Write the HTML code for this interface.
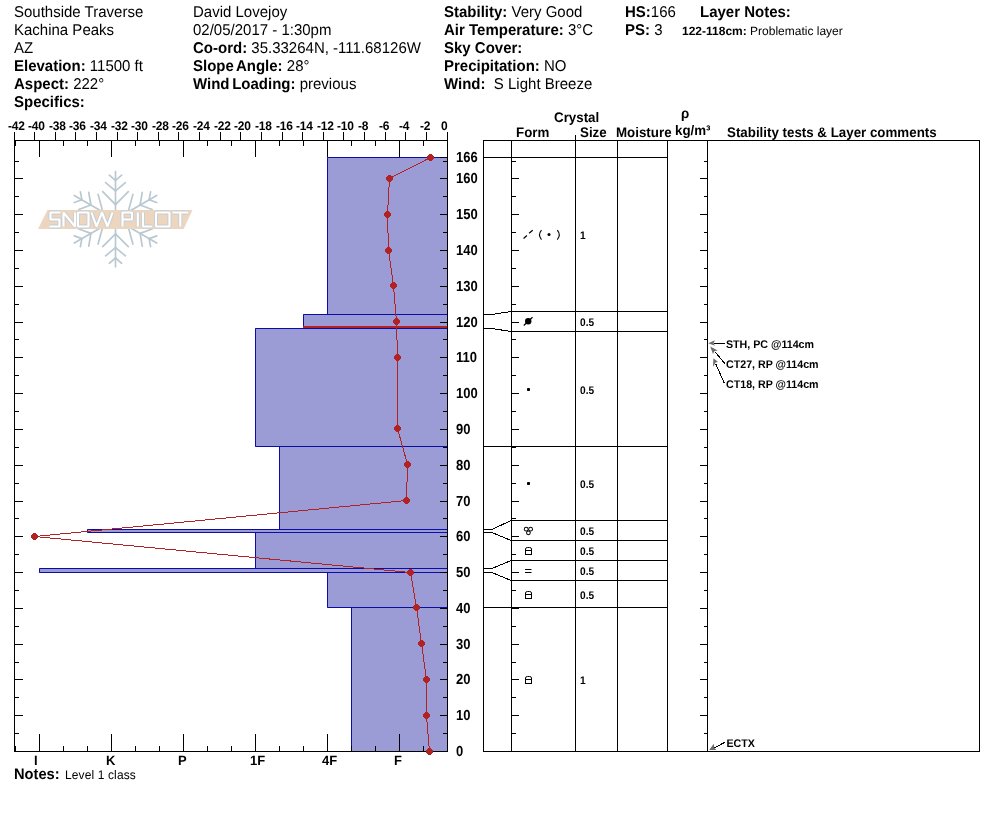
<!DOCTYPE html>
<html><head><meta charset="utf-8"><style>
html,body{margin:0;padding:0;background:#fff;}
svg{display:block;will-change:transform;text-rendering:geometricPrecision;font-family:"Liberation Sans", sans-serif;}
</style></head><body>
<svg width="994" height="840" viewBox="0 0 994 840">
<rect width="994" height="840" fill="#fff"/>
<text transform="translate(14,17) scale(1,1.04)" font-size="15" font-weight="400" text-anchor="start" fill="#000" >Southside Traverse</text>
<text transform="translate(14,35) scale(1,1.04)" font-size="15" font-weight="400" text-anchor="start" fill="#000" >Kachina Peaks</text>
<text transform="translate(14,53) scale(1,1.04)" font-size="15" font-weight="400" text-anchor="start" fill="#000" >AZ</text>
<text transform="translate(14,71) scale(1,1.04)" font-size="15"><tspan font-weight="700">Elevation:</tspan>  11500 ft</text>
<text transform="translate(14,89) scale(1,1.04)" font-size="15"><tspan font-weight="700">Aspect:</tspan>  222°</text>
<text transform="translate(14,107) scale(1,1.04)" font-size="15"><tspan font-weight="700">Specifics:</tspan> </text>
<text transform="translate(193,17) scale(1,1.04)" font-size="15" font-weight="400" text-anchor="start" fill="#000" >David Lovejoy</text>
<text transform="translate(193,35) scale(1,1.04)" font-size="15" font-weight="400" text-anchor="start" fill="#000" >02/05/2017 - 1:30pm</text>
<text transform="translate(193,53) scale(1,1.04)" font-size="15"><tspan font-weight="700">Co-ord:</tspan>  35.33264N, -111.68126W</text>
<text transform="translate(193,71) scale(1,1.04)" font-size="15"><tspan font-weight="700" word-spacing="-1.5">Slope Angle:</tspan>  28°</text>
<text transform="translate(193,89) scale(1,1.04)" font-size="15"><tspan font-weight="700" word-spacing="-1.5">Wind Loading:</tspan>  previous</text>
<text transform="translate(444,17) scale(1,1.04)" font-size="15"><tspan font-weight="700">Stability:</tspan>  Very Good</text>
<text transform="translate(444,35) scale(1,1.04)" font-size="15"><tspan font-weight="700">Air Temperature:</tspan>  3°C</text>
<text transform="translate(444,53) scale(1,1.04)" font-size="15"><tspan font-weight="700">Sky Cover:</tspan> </text>
<text transform="translate(444,71) scale(1,1.04)" font-size="15"><tspan font-weight="700">Precipitation:</tspan>  NO</text>
<text transform="translate(444,89) scale(1,1.04)" font-size="15"><tspan font-weight="700">Wind:</tspan>&#160;&#160;S Light Breeze</text>
<text transform="translate(625,17) scale(1,1.04)" font-size="15"><tspan font-weight="700">HS:</tspan>166</text>
<text transform="translate(625,35) scale(1,1.04)" font-size="15"><tspan font-weight="700">PS:</tspan>  3</text>
<text transform="translate(700,17) scale(1,1.04)" font-size="15" font-weight="700" text-anchor="start" fill="#000" >Layer Notes:</text>
<text x="682" y="35" font-size="12"><tspan font-weight="700">122-118cm:</tspan> Problematic layer</text>
<g transform="translate(115.5,219.2)" stroke="#b9c8d1" stroke-width="1.7" stroke-linecap="round">
<g transform="rotate(0)"><line x1="0" y1="0" x2="0" y2="-47.6"/><line x1="0" y1="-38.8" x2="-6.2" y2="-44.1"/><line x1="0" y1="-38.8" x2="6.2" y2="-44.1"/><line x1="0" y1="-28.4" x2="-9.9" y2="-36.6"/><line x1="0" y1="-28.4" x2="9.9" y2="-36.6"/><line x1="0" y1="-14.6" x2="-12.8" y2="-27.5"/><line x1="0" y1="-14.6" x2="12.8" y2="-27.5"/></g>
<g transform="rotate(60)"><line x1="0" y1="0" x2="0" y2="-47.6"/><line x1="0" y1="-38.8" x2="-6.2" y2="-44.1"/><line x1="0" y1="-38.8" x2="6.2" y2="-44.1"/><line x1="0" y1="-28.4" x2="-9.9" y2="-36.6"/><line x1="0" y1="-28.4" x2="9.9" y2="-36.6"/><line x1="0" y1="-14.6" x2="-12.8" y2="-27.5"/><line x1="0" y1="-14.6" x2="12.8" y2="-27.5"/></g>
<g transform="rotate(120)"><line x1="0" y1="0" x2="0" y2="-47.6"/><line x1="0" y1="-38.8" x2="-6.2" y2="-44.1"/><line x1="0" y1="-38.8" x2="6.2" y2="-44.1"/><line x1="0" y1="-28.4" x2="-9.9" y2="-36.6"/><line x1="0" y1="-28.4" x2="9.9" y2="-36.6"/><line x1="0" y1="-14.6" x2="-12.8" y2="-27.5"/><line x1="0" y1="-14.6" x2="12.8" y2="-27.5"/></g>
<g transform="rotate(180)"><line x1="0" y1="0" x2="0" y2="-47.6"/><line x1="0" y1="-38.8" x2="-6.2" y2="-44.1"/><line x1="0" y1="-38.8" x2="6.2" y2="-44.1"/><line x1="0" y1="-28.4" x2="-9.9" y2="-36.6"/><line x1="0" y1="-28.4" x2="9.9" y2="-36.6"/><line x1="0" y1="-14.6" x2="-12.8" y2="-27.5"/><line x1="0" y1="-14.6" x2="12.8" y2="-27.5"/></g>
<g transform="rotate(240)"><line x1="0" y1="0" x2="0" y2="-47.6"/><line x1="0" y1="-38.8" x2="-6.2" y2="-44.1"/><line x1="0" y1="-38.8" x2="6.2" y2="-44.1"/><line x1="0" y1="-28.4" x2="-9.9" y2="-36.6"/><line x1="0" y1="-28.4" x2="9.9" y2="-36.6"/><line x1="0" y1="-14.6" x2="-12.8" y2="-27.5"/><line x1="0" y1="-14.6" x2="12.8" y2="-27.5"/></g>
<g transform="rotate(300)"><line x1="0" y1="0" x2="0" y2="-47.6"/><line x1="0" y1="-38.8" x2="-6.2" y2="-44.1"/><line x1="0" y1="-38.8" x2="6.2" y2="-44.1"/><line x1="0" y1="-28.4" x2="-9.9" y2="-36.6"/><line x1="0" y1="-28.4" x2="9.9" y2="-36.6"/><line x1="0" y1="-14.6" x2="-12.8" y2="-27.5"/><line x1="0" y1="-14.6" x2="12.8" y2="-27.5"/></g>
</g>
<polygon points="47.5,210 192.5,210 183.7,229 38,229" fill="#edd6bf"/>
<path d="M60.5,212.5 H50.5 V219.5 H59.5 V226.5 H49.5 M63.5,226.5 V212.5 L75,226.5 V212.5 M78,212.5 H88.5 V226.5 H78 Z M91.5,212.5 L96.5,226.5 L102,212.5 L107.5,226.5 L112.5,212.5 M122.5,226.5 V212.5 H132 V219.5 H122.5 M137.8,212.5 V226.5 M143,212.5 V226.5 H152 M156,212.5 H169.5 V226.5 H156 Z M172.5,212.5 H188 M180.3,212.5 V226.5" fill="none" stroke="#c5ccd2" stroke-width="4" stroke-linejoin="bevel"/>
<path d="M60.5,212.5 H50.5 V219.5 H59.5 V226.5 H49.5 M63.5,226.5 V212.5 L75,226.5 V212.5 M78,212.5 H88.5 V226.5 H78 Z M91.5,212.5 L96.5,226.5 L102,212.5 L107.5,226.5 L112.5,212.5 M122.5,226.5 V212.5 H132 V219.5 H122.5 M137.8,212.5 V226.5 M143,212.5 V226.5 H152 M156,212.5 H169.5 V226.5 H156 Z M172.5,212.5 H188 M180.3,212.5 V226.5" fill="none" stroke="#ffffff" stroke-width="2.2" stroke-linejoin="bevel"/>
<rect x="327" y="157" width="120" height="158" fill="#9b9bd6"/>
<rect x="303" y="314" width="144" height="15" fill="#9b9bd6"/>
<rect x="255" y="328" width="192" height="119" fill="#9b9bd6"/>
<rect x="279" y="446" width="168" height="84" fill="#9b9bd6"/>
<rect x="87" y="529" width="360" height="4" fill="#9b9bd6"/>
<rect x="255" y="532" width="192" height="37" fill="#9b9bd6"/>
<rect x="39" y="568" width="408" height="5" fill="#9b9bd6"/>
<rect x="327" y="572" width="120" height="36" fill="#9b9bd6"/>
<rect x="351" y="607" width="96" height="145" fill="#9b9bd6"/>
<path d="M447,157.5 H327.5 V314.5 H447" fill="none" stroke="#0c0ca6" stroke-width="1"/>
<path d="M447,314.5 H303.5 V328.5 H447" fill="none" stroke="#0c0ca6" stroke-width="1"/>
<path d="M447,328.5 H255.5 V446.5 H447" fill="none" stroke="#0c0ca6" stroke-width="1"/>
<path d="M447,446.5 H279.5 V529.5 H447" fill="none" stroke="#0c0ca6" stroke-width="1"/>
<path d="M447,529.5 H87.5 V532.5 H447" fill="none" stroke="#0c0ca6" stroke-width="1"/>
<path d="M447,532.5 H255.5 V568.5 H447" fill="none" stroke="#0c0ca6" stroke-width="1"/>
<path d="M447,568.5 H39.5 V572.5 H447" fill="none" stroke="#0c0ca6" stroke-width="1"/>
<path d="M447,572.5 H327.5 V607.5 H447" fill="none" stroke="#0c0ca6" stroke-width="1"/>
<path d="M447,607.5 H351.5 V751.5 H447" fill="none" stroke="#0c0ca6" stroke-width="1"/>
<rect x="303" y="326" width="144" height="2" fill="#b22222"/>
<path d="M14,140.5 H448 M14.5,140 V752 M447.5,132 V752 M14,751.5 H448 M14.5,132 V140 M34.5,132 V140 M55.5,132 V140 M75.5,132 V140 M96.5,132 V140 M117.5,132 V140 M137.5,132 V140 M158.5,132 V140 M178.5,132 V140 M199.5,132 V140 M220.5,132 V140 M240.5,132 V140 M261.5,132 V140 M282.5,132 V140 M302.5,132 V140 M323.5,132 V140 M343.5,132 V140 M364.5,132 V140 M385.5,132 V140 M405.5,132 V140 M426.5,132 V140 M447.5,132 V140 M447.5,141 V146 M447.5,746 V751 M423.5,141 V146 M423.5,746 V751 M399.5,141 V157 M399.5,734 V751 M375.5,141 V146 M375.5,746 V751 M351.5,141 V146 M351.5,746 V751 M327.5,141 V157 M327.5,734 V751 M303.5,141 V146 M303.5,746 V751 M279.5,141 V146 M279.5,746 V751 M255.5,141 V157 M255.5,734 V751 M231.5,141 V146 M231.5,746 V751 M207.5,141 V146 M207.5,746 V751 M183.5,141 V157 M183.5,734 V751 M159.5,141 V146 M159.5,746 V751 M135.5,141 V146 M135.5,746 V751 M111.5,141 V157 M111.5,734 V751 M87.5,141 V146 M87.5,746 V751 M63.5,141 V146 M63.5,746 V751 M39.5,141 V157 M39.5,734 V751 M15.5,141 V146 M15.5,746 V751 M15,751.5 H23 M440,751.5 H447 M512,751.5 H519 M700,751.5 H707 M15,733.5 H19 M443,733.5 H447 M512,733.5 H516 M704,733.5 H707 M15,715.5 H23 M440,715.5 H447 M512,715.5 H519 M700,715.5 H707 M15,697.5 H19 M443,697.5 H447 M512,697.5 H516 M704,697.5 H707 M15,679.5 H23 M440,679.5 H447 M512,679.5 H519 M700,679.5 H707 M15,662.5 H19 M443,662.5 H447 M512,662.5 H516 M704,662.5 H707 M15,644.5 H23 M440,644.5 H447 M512,644.5 H519 M700,644.5 H707 M15,626.5 H19 M443,626.5 H447 M512,626.5 H516 M704,626.5 H707 M15,608.5 H23 M440,608.5 H447 M512,608.5 H519 M700,608.5 H707 M15,590.5 H19 M443,590.5 H447 M512,590.5 H516 M704,590.5 H707 M15,572.5 H23 M440,572.5 H447 M512,572.5 H519 M700,572.5 H707 M15,554.5 H19 M443,554.5 H447 M512,554.5 H516 M704,554.5 H707 M15,536.5 H23 M440,536.5 H447 M512,536.5 H519 M700,536.5 H707 M15,518.5 H19 M443,518.5 H447 M512,518.5 H516 M704,518.5 H707 M15,501.5 H23 M440,501.5 H447 M512,501.5 H519 M700,501.5 H707 M15,483.5 H19 M443,483.5 H447 M512,483.5 H516 M704,483.5 H707 M15,465.5 H23 M440,465.5 H447 M512,465.5 H519 M700,465.5 H707 M15,447.5 H19 M443,447.5 H447 M512,447.5 H516 M704,447.5 H707 M15,429.5 H23 M440,429.5 H447 M512,429.5 H519 M700,429.5 H707 M15,411.5 H19 M443,411.5 H447 M512,411.5 H516 M704,411.5 H707 M15,393.5 H23 M440,393.5 H447 M512,393.5 H519 M700,393.5 H707 M15,375.5 H19 M443,375.5 H447 M512,375.5 H516 M704,375.5 H707 M15,357.5 H23 M440,357.5 H447 M512,357.5 H519 M700,357.5 H707 M15,339.5 H19 M443,339.5 H447 M512,339.5 H516 M704,339.5 H707 M15,322.5 H23 M440,322.5 H447 M512,322.5 H519 M700,322.5 H707 M15,304.5 H19 M443,304.5 H447 M512,304.5 H516 M704,304.5 H707 M15,286.5 H23 M440,286.5 H447 M512,286.5 H519 M700,286.5 H707 M15,268.5 H19 M443,268.5 H447 M512,268.5 H516 M704,268.5 H707 M15,250.5 H23 M440,250.5 H447 M512,250.5 H519 M700,250.5 H707 M15,232.5 H19 M443,232.5 H447 M512,232.5 H516 M704,232.5 H707 M15,214.5 H23 M440,214.5 H447 M512,214.5 H519 M700,214.5 H707 M15,196.5 H19 M443,196.5 H447 M512,196.5 H516 M704,196.5 H707 M15,178.5 H23 M440,178.5 H447 M512,178.5 H519 M700,178.5 H707 M15,161.5 H19 M443,161.5 H447 M512,161.5 H516 M704,161.5 H707 M440,157.5 H447" stroke="#000" stroke-width="1" fill="none"/>
<text transform="translate(8,130) scale(1,1.04)" font-size="12" font-weight="700" text-anchor="start" fill="#000" letter-spacing="-0.2">-42</text>
<text transform="translate(28,130) scale(1,1.04)" font-size="12" font-weight="700" text-anchor="start" fill="#000" letter-spacing="-0.2">-40</text>
<text transform="translate(49,130) scale(1,1.04)" font-size="12" font-weight="700" text-anchor="start" fill="#000" letter-spacing="-0.2">-38</text>
<text transform="translate(69,130) scale(1,1.04)" font-size="12" font-weight="700" text-anchor="start" fill="#000" letter-spacing="-0.2">-36</text>
<text transform="translate(90,130) scale(1,1.04)" font-size="12" font-weight="700" text-anchor="start" fill="#000" letter-spacing="-0.2">-34</text>
<text transform="translate(111,130) scale(1,1.04)" font-size="12" font-weight="700" text-anchor="start" fill="#000" letter-spacing="-0.2">-32</text>
<text transform="translate(131,130) scale(1,1.04)" font-size="12" font-weight="700" text-anchor="start" fill="#000" letter-spacing="-0.2">-30</text>
<text transform="translate(152,130) scale(1,1.04)" font-size="12" font-weight="700" text-anchor="start" fill="#000" letter-spacing="-0.2">-28</text>
<text transform="translate(172,130) scale(1,1.04)" font-size="12" font-weight="700" text-anchor="start" fill="#000" letter-spacing="-0.2">-26</text>
<text transform="translate(193,130) scale(1,1.04)" font-size="12" font-weight="700" text-anchor="start" fill="#000" letter-spacing="-0.2">-24</text>
<text transform="translate(214,130) scale(1,1.04)" font-size="12" font-weight="700" text-anchor="start" fill="#000" letter-spacing="-0.2">-22</text>
<text transform="translate(234,130) scale(1,1.04)" font-size="12" font-weight="700" text-anchor="start" fill="#000" letter-spacing="-0.2">-20</text>
<text transform="translate(255,130) scale(1,1.04)" font-size="12" font-weight="700" text-anchor="start" fill="#000" letter-spacing="-0.2">-18</text>
<text transform="translate(276,130) scale(1,1.04)" font-size="12" font-weight="700" text-anchor="start" fill="#000" letter-spacing="-0.2">-16</text>
<text transform="translate(296,130) scale(1,1.04)" font-size="12" font-weight="700" text-anchor="start" fill="#000" letter-spacing="-0.2">-14</text>
<text transform="translate(317,130) scale(1,1.04)" font-size="12" font-weight="700" text-anchor="start" fill="#000" letter-spacing="-0.2">-12</text>
<text transform="translate(337,130) scale(1,1.04)" font-size="12" font-weight="700" text-anchor="start" fill="#000" letter-spacing="-0.2">-10</text>
<text transform="translate(358,130) scale(1,1.04)" font-size="12" font-weight="700" text-anchor="start" fill="#000" letter-spacing="-0.2">-8</text>
<text transform="translate(379,130) scale(1,1.04)" font-size="12" font-weight="700" text-anchor="start" fill="#000" letter-spacing="-0.2">-6</text>
<text transform="translate(399,130) scale(1,1.04)" font-size="12" font-weight="700" text-anchor="start" fill="#000" letter-spacing="-0.2">-4</text>
<text transform="translate(420,130) scale(1,1.04)" font-size="12" font-weight="700" text-anchor="start" fill="#000" letter-spacing="-0.2">-2</text>
<text transform="translate(441,130) scale(1,1.04)" font-size="12" font-weight="700" text-anchor="start" fill="#000" letter-spacing="-0.2">0</text>
<text transform="translate(456,162) scale(0.93,1.04)" font-size="14" font-weight="700">166</text>
<text transform="translate(456,183) scale(0.93,1.04)" font-size="14" font-weight="700">160</text>
<text transform="translate(456,219) scale(0.93,1.04)" font-size="14" font-weight="700">150</text>
<text transform="translate(456,255) scale(0.93,1.04)" font-size="14" font-weight="700">140</text>
<text transform="translate(456,291) scale(0.93,1.04)" font-size="14" font-weight="700">130</text>
<text transform="translate(456,327) scale(0.93,1.04)" font-size="14" font-weight="700">120</text>
<text transform="translate(456,362) scale(0.93,1.04)" font-size="14" font-weight="700">110</text>
<text transform="translate(456,398) scale(0.93,1.04)" font-size="14" font-weight="700">100</text>
<text transform="translate(456,434) scale(0.93,1.04)" font-size="14" font-weight="700">90</text>
<text transform="translate(456,470) scale(0.93,1.04)" font-size="14" font-weight="700">80</text>
<text transform="translate(456,506) scale(0.93,1.04)" font-size="14" font-weight="700">70</text>
<text transform="translate(456,541) scale(0.93,1.04)" font-size="14" font-weight="700">60</text>
<text transform="translate(456,577) scale(0.93,1.04)" font-size="14" font-weight="700">50</text>
<text transform="translate(456,613) scale(0.93,1.04)" font-size="14" font-weight="700">40</text>
<text transform="translate(456,649) scale(0.93,1.04)" font-size="14" font-weight="700">30</text>
<text transform="translate(456,684) scale(0.93,1.04)" font-size="14" font-weight="700">20</text>
<text transform="translate(456,720) scale(0.93,1.04)" font-size="14" font-weight="700">10</text>
<text transform="translate(456,756) scale(0.93,1.04)" font-size="14" font-weight="700">0</text>
<text transform="translate(34,765) scale(1,1.04)" font-size="13" font-weight="700" text-anchor="start" fill="#000" >I</text>
<text transform="translate(106,765) scale(1,1.04)" font-size="13" font-weight="700" text-anchor="start" fill="#000" >K</text>
<text transform="translate(178,765) scale(1,1.04)" font-size="13" font-weight="700" text-anchor="start" fill="#000" >P</text>
<text transform="translate(250,765) scale(1,1.04)" font-size="13" font-weight="700" text-anchor="start" fill="#000" >1F</text>
<text transform="translate(322,765) scale(1,1.04)" font-size="13" font-weight="700" text-anchor="start" fill="#000" >4F</text>
<text transform="translate(394,765) scale(1,1.04)" font-size="13" font-weight="700" text-anchor="start" fill="#000" >F</text>
<text transform="translate(14,779) scale(1,1.04)" font-size="14.67" font-weight="700" text-anchor="start" fill="#000" >Notes:</text>
<text transform="translate(65,779) scale(1,1.04)" font-size="12" font-weight="400" text-anchor="start" fill="#000" letter-spacing="0.12">Level 1 class</text>
<polyline points="430.5,157.5 389.5,178.5 387.5,214.5 388.5,250.5 393.5,285.5 396.5,321.5 397.5,357.5 397.5,428.5 407.5,464.5 406.5,500.5 34.5,536.5 410.5,572.5 416.5,607.5 421.5,643.5 426.5,679.5 426.5,715.5 429.5,751.5" fill="none" stroke="#b22222" stroke-width="1" shape-rendering="crispEdges"/>
<path d="M429,154 H432 V155 H433 V156 H434 V159 H433 V160 H432 V161 H429 V160 H428 V159 H427 V156 H428 V155 H429 Z M388,175 H391 V176 H392 V177 H393 V180 H392 V181 H391 V182 H388 V181 H387 V180 H386 V177 H387 V176 H388 Z M386,211 H389 V212 H390 V213 H391 V216 H390 V217 H389 V218 H386 V217 H385 V216 H384 V213 H385 V212 H386 Z M387,247 H390 V248 H391 V249 H392 V252 H391 V253 H390 V254 H387 V253 H386 V252 H385 V249 H386 V248 H387 Z M392,282 H395 V283 H396 V284 H397 V287 H396 V288 H395 V289 H392 V288 H391 V287 H390 V284 H391 V283 H392 Z M395,318 H398 V319 H399 V320 H400 V323 H399 V324 H398 V325 H395 V324 H394 V323 H393 V320 H394 V319 H395 Z M396,354 H399 V355 H400 V356 H401 V359 H400 V360 H399 V361 H396 V360 H395 V359 H394 V356 H395 V355 H396 Z M396,425 H399 V426 H400 V427 H401 V430 H400 V431 H399 V432 H396 V431 H395 V430 H394 V427 H395 V426 H396 Z M406,461 H409 V462 H410 V463 H411 V466 H410 V467 H409 V468 H406 V467 H405 V466 H404 V463 H405 V462 H406 Z M405,497 H408 V498 H409 V499 H410 V502 H409 V503 H408 V504 H405 V503 H404 V502 H403 V499 H404 V498 H405 Z M33,533 H36 V534 H37 V535 H38 V538 H37 V539 H36 V540 H33 V539 H32 V538 H31 V535 H32 V534 H33 Z M409,569 H412 V570 H413 V571 H414 V574 H413 V575 H412 V576 H409 V575 H408 V574 H407 V571 H408 V570 H409 Z M415,604 H418 V605 H419 V606 H420 V609 H419 V610 H418 V611 H415 V610 H414 V609 H413 V606 H414 V605 H415 Z M420,640 H423 V641 H424 V642 H425 V645 H424 V646 H423 V647 H420 V646 H419 V645 H418 V642 H419 V641 H420 Z M425,676 H428 V677 H429 V678 H430 V681 H429 V682 H428 V683 H425 V682 H424 V681 H423 V678 H424 V677 H425 Z M425,712 H428 V713 H429 V714 H430 V717 H429 V718 H428 V719 H425 V718 H424 V717 H423 V714 H424 V713 H425 Z M428,748 H431 V749 H432 V750 H433 V753 H432 V754 H431 V755 H428 V754 H427 V753 H426 V750 H427 V749 H428 Z" fill="#b22222"/>
<path d="M483,140.5 H980 M483,751.5 H980 M483.5,140 V752 M979.5,140 V752 M511.5,140 V752 M575.5,140 V752 M617.5,140 V752 M667.5,140 V752 M707.5,140 V752 M575.5,135 V140 M511,157.5 H668 M511,311.5 H668 M511,331.5 H668 M511,446.5 H668 M511,520.5 H668 M511,540.5 H668 M511,560.5 H668 M511,580.5 H668 M511,607.5 H668 M484,157.5 H492 L511,157.5 M484,314.5 H492 L511,311.5 M484,328.5 H492 L511,331.5 M484,446.5 H492 L511,446.5 M484,529.5 H492 L511,520.5 M484,532.5 H492 L511,540.5 M484,568.5 H492 L511,560.5 M484,572.5 H492 L511,580.5 M484,607.5 H492 L511,607.5" stroke="#000" stroke-width="1" fill="none" shape-rendering="crispEdges"/>
<text transform="translate(554,122) scale(1,1.04)" font-size="13.33" font-weight="700" text-anchor="start" fill="#000" >Crystal</text>
<text transform="translate(516,137) scale(1,1.04)" font-size="13.33" font-weight="700" text-anchor="start" fill="#000" >Form</text>
<text transform="translate(580,137) scale(1,1.04)" font-size="13.33" font-weight="700" text-anchor="start" fill="#000" >Size</text>
<text transform="translate(616,137) scale(1,1.04)" font-size="13.33" font-weight="700" text-anchor="start" fill="#000" >Moisture</text>
<text transform="translate(681,118) scale(1,1.04)" font-size="13.33" font-weight="700" text-anchor="start" fill="#000" >ρ</text>
<text transform="translate(675,135) scale(1,1.04)" font-size="13.33" font-weight="700" text-anchor="start" fill="#000" >kg/m³</text>
<text transform="translate(727,137) scale(1,1.04)" font-size="13.33" font-weight="700" text-anchor="start" fill="#000" >Stability tests &amp; Layer comments</text>
<text transform="translate(580,239) scale(0.95,1.04)" font-size="10.67" font-weight="700">1</text>
<text transform="translate(580,326) scale(0.95,1.04)" font-size="10.67" font-weight="700">0.5</text>
<text transform="translate(580,394) scale(0.95,1.04)" font-size="10.67" font-weight="700">0.5</text>
<text transform="translate(580,488) scale(0.95,1.04)" font-size="10.67" font-weight="700">0.5</text>
<text transform="translate(580,535) scale(0.95,1.04)" font-size="10.67" font-weight="700">0.5</text>
<text transform="translate(580,555) scale(0.95,1.04)" font-size="10.67" font-weight="700">0.5</text>
<text transform="translate(580,575) scale(0.95,1.04)" font-size="10.67" font-weight="700">0.5</text>
<text transform="translate(580,599) scale(0.95,1.04)" font-size="10.67" font-weight="700">0.5</text>
<text transform="translate(580,684) scale(0.95,1.04)" font-size="10.67" font-weight="700">1</text>
<path d="M523.6,238.5 L526.9,235.5 M529.1,233.3 L532.7,230.2" stroke="#000" stroke-width="1.2"/><path d="M541.5,230.2 Q537.5,235 541.5,239.6 M557.3,230.2 Q561.3,235 557.3,239.6" stroke="#000" stroke-width="1.1" fill="none"/><circle cx="549" cy="234.5" r="1.5" fill="#000"/><circle cx="528.2" cy="321.3" r="3.2" fill="#000"/><path d="M523.8,325.5 L532.5,317.3" stroke="#000" stroke-width="1.2"/><rect x="527" y="388" width="3" height="3" rx="0.8" fill="#000"/><rect x="527" y="482" width="3" height="3" rx="0.8" fill="#000"/><g fill="#000"><circle cx="526.2" cy="529.2" r="2.35"/><circle cx="530.6" cy="529.2" r="2.35"/><circle cx="528.4" cy="532.8" r="2.35"/></g><g fill="#fff"><circle cx="526.2" cy="529.2" r="1.35"/><circle cx="530.6" cy="529.2" r="1.35"/><circle cx="528.4" cy="532.8" r="1.35"/></g><path d="M525.5,555 V549 Q525.5,547.5 527.5,547.5 H529.5 Q531.5,547.5 531.5,549 V555 M525,554.5 H532 M525,550.5 H532" stroke="#000" stroke-width="1" fill="none"/><path d="M525,569.5 H531.5 M525,572.5 H531.5" stroke="#000" stroke-width="1"/><path d="M525.5,599 V593 Q525.5,591.5 527.5,591.5 H529.5 Q531.5,591.5 531.5,593 V599 M525,598.5 H532 M525,594.5 H532" stroke="#000" stroke-width="1" fill="none"/><path d="M525.5,684 V678 Q525.5,676.5 527.5,676.5 H529.5 Q531.5,676.5 531.5,678 V684 M525,683.5 H532 M525,679.5 H532" stroke="#000" stroke-width="1" fill="none"/>
<text transform="translate(726,348) scale(1,1.04)" font-size="10.67" font-weight="700" text-anchor="start" fill="#000" >STH, PC @114cm</text>
<text transform="translate(726,368) scale(1,1.04)" font-size="10.67" font-weight="700" text-anchor="start" fill="#000" >CT27, RP @114cm</text>
<text transform="translate(726,388) scale(1,1.04)" font-size="10.67" font-weight="700" text-anchor="start" fill="#000" >CT18, RP @114cm</text>
<text transform="translate(726.5,747) scale(1,1.04)" font-size="10.67" font-weight="700" text-anchor="start" fill="#000" >ECTX</text>
<path d="M714,343.5 H725 M715,351.7 L725,363.8 M715.7,363.8 L724.5,383.5 M714.4,747.8 L724.8,742.3" stroke="#000" stroke-width="1" shape-rendering="crispEdges"/><path d="M708.2,343.3 L715,340.2 L713.5,343.3 L715,345.8 Z" fill="#6c6c6c"/><path d="M710.2,346.5 L717.7,350.6 L714.5,351 L713,354 Z" fill="#6c6c6c"/><path d="M713.4,358.2 L718,362 L715.5,362.5 L713,367 Z" fill="#6c6c6c"/><path d="M709.2,750 L713.8,743.8 L714.2,747.8 L716.4,750 Z" fill="#6c6c6c"/>
</svg></body></html>
